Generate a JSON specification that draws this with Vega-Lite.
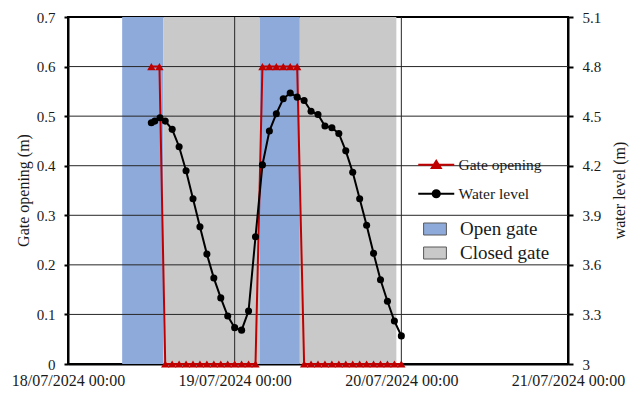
{
  "$schema": "https://vega.github.io/schema/vega-lite/v6.json",
  "width": 500,
  "height": 347,
  "autosize": {"type": "none"},
  "padding": {"left": 68, "top": 17, "right": 69, "bottom": 30},
  "background": "white",
  "config": {
    "font": "Liberation Serif",
    "view": {"stroke": "black", "strokeWidth": 2},
    "style": {
      "guide-label": {"font": "Liberation Serif", "fill": "#1a1a1a"},
      "guide-title": {"font": "Liberation Serif", "fill": "#1a1a1a", "fontWeight": "normal"}
    },
    "axis": {
      "labelFont": "Liberation Serif",
      "titleFont": "Liberation Serif",
      "labelColor": "#1a1a1a",
      "titleColor": "#1a1a1a",
      "titleFontWeight": "normal",
      "domainColor": "black",
      "domainWidth": 2,
      "tickColor": "black",
      "tickWidth": 2,
      "grid": false,
      "labelFontSize": 15,
      "titleFontSize": 16
    },
    "legend": {
      "labelFont": "Liberation Serif",
      "labelColor": "#1a1a1a",
      "padding": 0
    }
  },
  "datasets": {
    "periods": [
      {"state": "Open gate", "start": "2024-07-18T07:48", "end": "2024-07-18T13:42"},
      {"state": "Closed gate", "start": "2024-07-18T13:42", "end": "2024-07-19T03:38"},
      {"state": "Open gate", "start": "2024-07-19T03:38", "end": "2024-07-19T09:23"},
      {"state": "Closed gate", "start": "2024-07-19T09:23", "end": "2024-07-19T23:17"}
    ],
    "ygrid": [{"g": 0.1}, {"g": 0.2}, {"g": 0.3}, {"g": 0.4}, {"g": 0.5}, {"g": 0.6}],
    "xgrid": [{"d": "2024-07-19T00:00"}, {"d": "2024-07-20T00:00"}],
    "gate": [
      {"series": "Gate opening", "t": "2024-07-18T12:00", "v": 0.6},
      {"series": "Gate opening", "t": "2024-07-18T13:10", "v": 0.6},
      {"series": "Gate opening", "t": "2024-07-18T14:00", "v": 0},
      {"series": "Gate opening", "t": "2024-07-18T15:00", "v": 0},
      {"series": "Gate opening", "t": "2024-07-18T16:00", "v": 0},
      {"series": "Gate opening", "t": "2024-07-18T17:00", "v": 0},
      {"series": "Gate opening", "t": "2024-07-18T18:00", "v": 0},
      {"series": "Gate opening", "t": "2024-07-18T19:00", "v": 0},
      {"series": "Gate opening", "t": "2024-07-18T20:00", "v": 0},
      {"series": "Gate opening", "t": "2024-07-18T21:00", "v": 0},
      {"series": "Gate opening", "t": "2024-07-18T22:00", "v": 0},
      {"series": "Gate opening", "t": "2024-07-18T23:00", "v": 0},
      {"series": "Gate opening", "t": "2024-07-19T00:00", "v": 0},
      {"series": "Gate opening", "t": "2024-07-19T01:00", "v": 0},
      {"series": "Gate opening", "t": "2024-07-19T02:00", "v": 0},
      {"series": "Gate opening", "t": "2024-07-19T03:00", "v": 0},
      {"series": "Gate opening", "t": "2024-07-19T04:00", "v": 0.6},
      {"series": "Gate opening", "t": "2024-07-19T05:00", "v": 0.6},
      {"series": "Gate opening", "t": "2024-07-19T06:00", "v": 0.6},
      {"series": "Gate opening", "t": "2024-07-19T07:00", "v": 0.6},
      {"series": "Gate opening", "t": "2024-07-19T08:00", "v": 0.6},
      {"series": "Gate opening", "t": "2024-07-19T09:00", "v": 0.6},
      {"series": "Gate opening", "t": "2024-07-19T10:00", "v": 0},
      {"series": "Gate opening", "t": "2024-07-19T11:00", "v": 0},
      {"series": "Gate opening", "t": "2024-07-19T12:00", "v": 0},
      {"series": "Gate opening", "t": "2024-07-19T13:00", "v": 0},
      {"series": "Gate opening", "t": "2024-07-19T14:00", "v": 0},
      {"series": "Gate opening", "t": "2024-07-19T15:00", "v": 0},
      {"series": "Gate opening", "t": "2024-07-19T16:00", "v": 0},
      {"series": "Gate opening", "t": "2024-07-19T17:00", "v": 0},
      {"series": "Gate opening", "t": "2024-07-19T18:00", "v": 0},
      {"series": "Gate opening", "t": "2024-07-19T19:00", "v": 0},
      {"series": "Gate opening", "t": "2024-07-19T20:00", "v": 0},
      {"series": "Gate opening", "t": "2024-07-19T21:00", "v": 0},
      {"series": "Gate opening", "t": "2024-07-19T22:00", "v": 0},
      {"series": "Gate opening", "t": "2024-07-19T23:00", "v": 0},
      {"series": "Gate opening", "t": "2024-07-20T00:00", "v": 0}
    ],
    "water": [
      {"series": "Water level", "t": "2024-07-18T12:00", "v": 4.46},
      {"series": "Water level", "t": "2024-07-18T12:30", "v": 4.47},
      {"series": "Water level", "t": "2024-07-18T13:15", "v": 4.49},
      {"series": "Water level", "t": "2024-07-18T14:00", "v": 4.47},
      {"series": "Water level", "t": "2024-07-18T15:00", "v": 4.42},
      {"series": "Water level", "t": "2024-07-18T16:00", "v": 4.315},
      {"series": "Water level", "t": "2024-07-18T17:00", "v": 4.17},
      {"series": "Water level", "t": "2024-07-18T18:00", "v": 4.0},
      {"series": "Water level", "t": "2024-07-18T19:00", "v": 3.83},
      {"series": "Water level", "t": "2024-07-18T20:00", "v": 3.665},
      {"series": "Water level", "t": "2024-07-18T21:00", "v": 3.52},
      {"series": "Water level", "t": "2024-07-18T22:00", "v": 3.4},
      {"series": "Water level", "t": "2024-07-18T23:00", "v": 3.29},
      {"series": "Water level", "t": "2024-07-19T00:00", "v": 3.22},
      {"series": "Water level", "t": "2024-07-19T01:00", "v": 3.205},
      {"series": "Water level", "t": "2024-07-19T02:00", "v": 3.32},
      {"series": "Water level", "t": "2024-07-19T03:00", "v": 3.77},
      {"series": "Water level", "t": "2024-07-19T04:00", "v": 4.205},
      {"series": "Water level", "t": "2024-07-19T05:00", "v": 4.41},
      {"series": "Water level", "t": "2024-07-19T06:00", "v": 4.515},
      {"series": "Water level", "t": "2024-07-19T07:00", "v": 4.605},
      {"series": "Water level", "t": "2024-07-19T08:00", "v": 4.64},
      {"series": "Water level", "t": "2024-07-19T09:00", "v": 4.615},
      {"series": "Water level", "t": "2024-07-19T10:00", "v": 4.595},
      {"series": "Water level", "t": "2024-07-19T11:00", "v": 4.53},
      {"series": "Water level", "t": "2024-07-19T12:00", "v": 4.51},
      {"series": "Water level", "t": "2024-07-19T13:00", "v": 4.44},
      {"series": "Water level", "t": "2024-07-19T14:00", "v": 4.43},
      {"series": "Water level", "t": "2024-07-19T15:00", "v": 4.395},
      {"series": "Water level", "t": "2024-07-19T16:00", "v": 4.29},
      {"series": "Water level", "t": "2024-07-19T17:00", "v": 4.16},
      {"series": "Water level", "t": "2024-07-19T18:00", "v": 4.0},
      {"series": "Water level", "t": "2024-07-19T19:00", "v": 3.84},
      {"series": "Water level", "t": "2024-07-19T20:00", "v": 3.67},
      {"series": "Water level", "t": "2024-07-19T21:00", "v": 3.51},
      {"series": "Water level", "t": "2024-07-19T22:00", "v": 3.38},
      {"series": "Water level", "t": "2024-07-19T23:00", "v": 3.26},
      {"series": "Water level", "t": "2024-07-20T00:00", "v": 3.17}
    ]
  },
  "layer": [
    {
      "data": {"name": "periods"},
      "mark": {"type": "rect"},
      "encoding": {
        "x": {
          "field": "start", "type": "temporal",
          "scale": {"domain": [{"year": 2024, "month": 7, "date": 18}, {"year": 2024, "month": 7, "date": 21}]},
          "axis": {
            "orient": "bottom",
            "title": null,
            "values": [{"year": 2024, "month": 7, "date": 18}, {"year": 2024, "month": 7, "date": 19}, {"year": 2024, "month": 7, "date": 20}, {"year": 2024, "month": 7, "date": 21}],
            "format": "%d/%m/%Y %H:%M",
            "labelFont": "Liberation Serif",
            "labelFontSize": 16,
            "labelFlush": false,
            "labelOverlap": false,
            "tickSize": 0,
            "labelPadding": 8
          }
        },
        "x2": {"field": "end"},
        "fill": {
          "field": "state", "type": "nominal",
          "scale": {"domain": ["Open gate", "Closed gate"], "range": ["#8eaadb", "#c9c9c9"]},
          "legend": {
            "orient": "none",
            "legendX": 357.5,
            "legendY": 202.5,
            "title": null,
            "symbolType": "M-1.9,-1H1.9V1H-1.9Z",
            "symbolSize": 144,
            "symbolStrokeColor": "#595959",
            "symbolStrokeWidth": 1,
            "labelFont": "Liberation Serif",
            "labelFontSize": 19,
            "labelOffset": 15.5,
            "rowPadding": 4
          }
        }
      }
    },
    {
      "layer": [
        {
          "data": {"name": "ygrid"},
          "mark": {"type": "rule", "color": "#262626", "strokeWidth": 1},
          "encoding": {"y": {"field": "g", "type": "quantitative"}}
        },
        {
          "data": {"name": "xgrid"},
          "mark": {"type": "rule", "color": "#262626", "strokeWidth": 1},
          "encoding": {"x": {"field": "d", "type": "temporal"}}
        },
        {
          "data": {"name": "gate"},
          "mark": {"type": "line", "strokeWidth": 2},
          "encoding": {
            "x": {"field": "t", "type": "temporal"},
            "y": {"field": "v", "type": "quantitative"},
            "stroke": {
              "field": "series", "type": "nominal",
              "scale": {"domain": ["Gate opening", "Water level"], "range": ["#c00000", "#000000"]},
              "legend": {
                "orient": "none",
                "legendX": 360.5,
                "legendY": 140,
                "title": null,
                "symbolSize": 144,
                "labelFont": "Liberation Serif",
                "labelFontSize": 15.5,
                "labelOffset": 14.5,
                "rowPadding": 12,
                "encode": {
                  "symbols": {
                    "update": {
                      "shape": {"signal": "datum.value === 'Gate opening' ? 'M-3,0H3M-0.75,0.55L0,-0.65L0.75,0.55Z' : 'M-3,0H3M0.6,0A0.6,0.6 0 1,1 -0.6,0A0.6,0.6 0 1,1 0.6,0Z'"},
                      "fill": {"signal": "datum.value === 'Gate opening' ? '#c00000' : '#000000'"},
                      "stroke": {"signal": "datum.value === 'Gate opening' ? '#c00000' : '#000000'"},
                      "strokeWidth": {"value": 2}
                    }
                  }
                }
              }
            }
          }
        },
        {
          "data": {"name": "gate"},
          "mark": {"type": "point", "shape": "triangle-up", "filled": true, "color": "#c00000", "size": 70, "opacity": 1},
          "encoding": {
            "x": {"field": "t", "type": "temporal"},
            "y": {"field": "v", "type": "quantitative"}
          }
        }
      ],
      "encoding": {
        "y": {
          "scale": {"domain": [0, 0.7], "nice": false},
          "axis": {
            "orient": "left",
            "title": "Gate opening (m)",
            "values": [0, 0.1, 0.2, 0.3, 0.4, 0.5, 0.6, 0.7],
            "format": "~g",
            "labelFont": "Liberation Serif",
            "titleFont": "Liberation Serif",
            "tickSize": 4,
            "labelPadding": 9,
            "titleAngle": -90,
            "titleBaseline": "middle",
            "titleAlign": "center",
            "titleX": -45,
            "titleY": 173
          }
        }
      }
    },
    {
      "data": {"name": "water"},
      "layer": [
        {
          "mark": {"type": "line", "strokeWidth": 2},
          "encoding": {
            "stroke": {"field": "series", "type": "nominal"}
          }
        },
        {
          "mark": {"type": "point", "shape": "circle", "filled": true, "color": "#000000", "size": 50, "opacity": 1}
        }
      ],
      "encoding": {
        "x": {"field": "t", "type": "temporal"},
        "y": {
          "field": "v", "type": "quantitative",
          "scale": {"domain": [3, 5.1], "nice": false, "zero": false},
          "axis": {
            "orient": "right",
            "title": "water level (m)",
            "values": [3, 3.3, 3.6, 3.9, 4.2, 4.5, 4.8, 5.1],
            "format": "~g",
            "labelFont": "Liberation Serif",
            "titleFont": "Liberation Serif",
            "tickSize": 5,
            "labelPadding": 9,
            "titleAngle": -90,
            "titleBaseline": "middle",
            "titleAlign": "center",
            "titleX": 51,
            "titleY": 173
          }
        }
      }
    }
  ],
  "resolve": {"scale": {"y": "independent"}}
}
